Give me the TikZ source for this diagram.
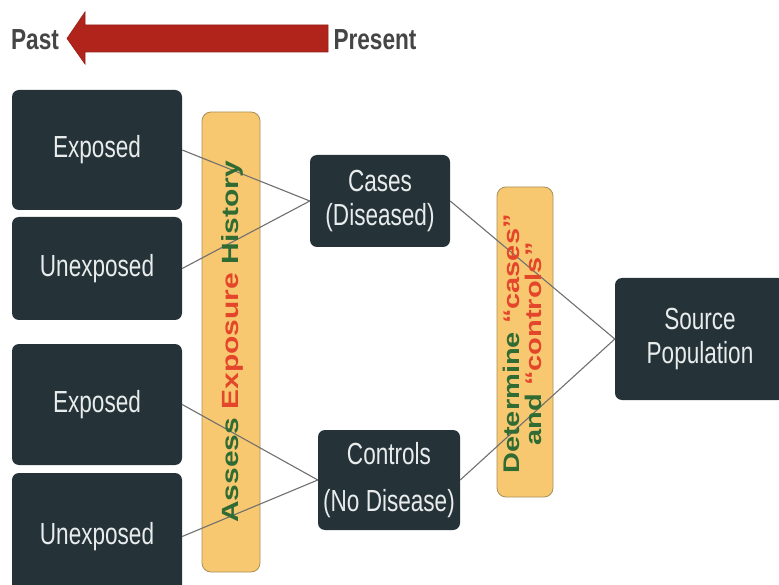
\documentclass[tikz,border=0pt]{standalone}
\usepackage{fontspec}
\setmainfont[FakeStretch=0.78]{Liberation Sans}
\newfontfamily\boxfont[FakeStretch=0.74]{Liberation Sans}
\newfontfamily\rotfont{Liberation Sans}
\definecolor{boxc}{HTML}{253238}
\definecolor{boxtext}{HTML}{E8ECEC}
\definecolor{arrowred}{HTML}{B0241C}
\definecolor{yelfill}{HTML}{F7C870}
\definecolor{yeldraw}{HTML}{A8905A}
\definecolor{greent}{HTML}{2F6B33}
\definecolor{redt}{HTML}{E4462B}
\definecolor{graytext}{HTML}{454545}
\definecolor{linec}{HTML}{707070}
\tikzset{
  darkbox/.style={fill=boxc, draw=none, rounded corners=7pt, text=boxtext, align=center, inner sep=0pt,
    font=\boxfont\fontsize{30.5}{34}\selectfont},
  yelbox/.style={fill=yelfill, draw=yeldraw, line width=0.8pt, rounded corners=9pt, inner sep=0pt},
  conn/.style={draw=linec, line width=1.1pt},
  timelabel/.style={text=graytext, font=\bfseries\fontsize{29}{34}\selectfont, inner sep=0pt},
  rottext/.style={rotate=90, inner sep=0pt, font=\rotfont\bfseries\fontsize{30}{26}\selectfont}
}
\begin{document}
\begin{tikzpicture}[x=1pt,y=-1pt]
\clip (0,0) rectangle (779,585);
\fill[white] (0,0) rectangle (779,585);
% time arrow
\filldraw[fill=arrowred, draw=arrowred!85!black, line width=0.6pt]
  (328,25) -- (85,25) -- (85,12) -- (67,38.5) -- (85,64) -- (85,52) -- (328,52) -- cycle;
\node[timelabel] (past) at (35,40) {Past};
\node[timelabel] (present) at (375,40) {Present};
% yellow boxes
\node[yelbox, minimum width=58pt, minimum height=460pt] (assess) at (231,342) {};
\node[yelbox, minimum width=56pt, minimum height=310pt] (determine) at (525,342) {};
% dark boxes
\node[darkbox, minimum width=170pt, minimum height=120pt] (exp1) at (97,150) {Exposed};
\node[darkbox, minimum width=170pt, minimum height=103pt] (unexp1) at (97,268.5) {Unexposed};
\node[darkbox, minimum width=170pt, minimum height=121pt] (exp2) at (97,404.5) {Exposed};
\node[darkbox, minimum width=170pt, minimum height=127pt] (unexp2) at (97,536.5) {Unexposed};
\node[darkbox, minimum width=140pt, minimum height=92pt] (cases) at (380,201) {Cases\\(Diseased)};
\node[darkbox, minimum width=142pt, minimum height=100pt] (controls) at (389,480) {Controls\\[13pt](No Disease)};
\node[darkbox, minimum width=170pt, minimum height=122pt] (source) at (700,339) {Source\\Population};
% connectors
\draw[conn] (exp1.east) -- (cases.west);
\draw[conn] (unexp1.east) -- (cases.west);
\draw[conn] (exp2.east) -- (controls.west);
\draw[conn] (unexp2.east) -- (controls.west);
\draw[conn] (cases.east) -- (source.west);
\draw[conn] (controls.east) -- (source.west);
% rotated texts
\node[rottext] (assesstext) at (232,342)
  {\scalebox{1}[0.78]{\textcolor{greent}{Assess} \textcolor{redt}{Exposure} \textcolor{greent}{History}}};
\node[rottext] (determinetext) at (525,344)
  {\scalebox{1}[0.78]{\fontsize{29}{23}\selectfont\begin{tabular}{@{}c@{}}\textcolor{greent}{Determine} \textcolor{redt}{“cases”}\\\textcolor{greent}{and} \textcolor{redt}{“controls”}\end{tabular}}};
\end{tikzpicture}
\end{document}
